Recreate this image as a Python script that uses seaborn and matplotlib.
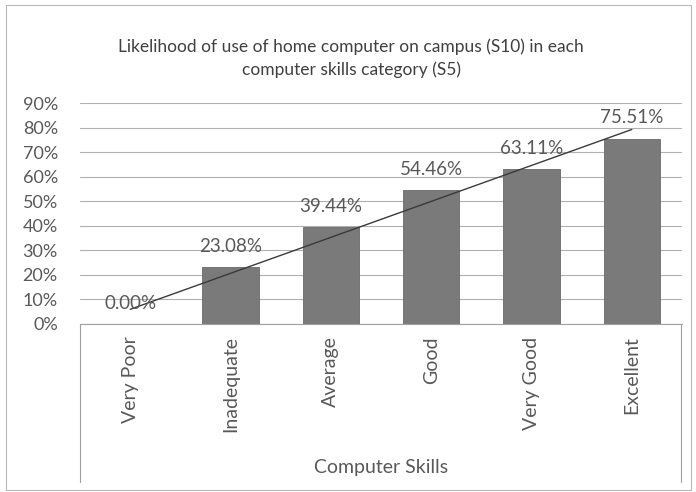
import numpy as np
import pandas as pd
import matplotlib
matplotlib.use("Agg")
import matplotlib.pyplot as plt
import seaborn as sns
from matplotlib.patches import Rectangle
from matplotlib.lines import Line2D

# Data
categories = ["Very Poor", "Inadequate", "Average", "Good", "Very Good", "Excellent"]
likelihood = [0.00, 23.08, 39.44, 54.46, 63.11, 75.51]
y_ticks = [0, 10, 20, 30, 40, 50, 60, 70, 80, 90]

title = "Likelihood of use of home computer on campus (S10) in each\ncomputer skills category (S5)"
x_title = "Computer Skills"

sns.set_theme(style="white")
plt.rcParams["font.family"] = ["Lato", "DejaVu Sans"]

TEXT = "#595959"
df = pd.DataFrame({"skill": categories, "pct": likelihood})

fig = plt.figure(figsize=(6.96, 4.92), dpi=100)
ax = fig.add_axes([80 / 696, 1 - 324 / 492, 602 / 696, 221 / 492])

sns.barplot(data=df, x="skill", y="pct", color="#7a7a7a", saturation=1,
            width=0.56, edgecolor="#6a6a6a", linewidth=0.6, ax=ax, zorder=2)

# Linear trendline through the category positions
xs = np.arange(len(likelihood))
slope, intercept = np.polyfit(xs, likelihood, 1)
ax.plot([xs[0], xs[-1]], [intercept, intercept + slope * xs[-1]],
        color="#3a3a3a", lw=1.0, zorder=4)

# Value labels above the bars
for i, v in enumerate(likelihood):
    ax.annotate(f"{v:.2f}%", (i, v), xytext=(0, 15), textcoords="offset points",
                ha="center", va="center", fontsize=13.5, color=TEXT, zorder=5)

ax.set_ylim(0, 90)
ax.set_xlim(-0.5, len(categories) - 0.5)
ax.set_yticks(y_ticks)
ax.set_yticklabels([f"{t}%" for t in y_ticks])
ax.yaxis.grid(True, color="#b0b0b0", lw=0.8, zorder=0)
ax.set_axisbelow(True)
ax.tick_params(axis="y", length=0, pad=16, labelsize=13, labelcolor=TEXT)
ax.tick_params(axis="x", length=0, pad=9, labelsize=14, labelcolor=TEXT)
for lab in ax.get_xticklabels():
    lab.set_rotation(90)
    lab.set_va("top")
    lab.set_ha("center")
ax.set_xlabel("")
ax.set_ylabel("")
for side in ["top", "right", "left"]:
    ax.spines[side].set_visible(False)
ax.spines["bottom"].set_color("#a0a0a0")
ax.spines["bottom"].set_linewidth(0.8)

# Category area frame below the axis
for x in (79.5 / 696, 680.5 / 696):
    fig.add_artist(Line2D([x, x], [1 - 324 / 492, 1 - 482 / 492],
                          transform=fig.transFigure, color="#a0a0a0", lw=0.8))

fig.text(381 / 696, 1 - 467 / 492, x_title, ha="center", va="center",
         fontsize=14, color=TEXT)
fig.text(351 / 696, 1 - 58 / 492, title, ha="center", va="center",
         fontsize=12.5, color="#404040", linespacing=1.5)

# Outer chart border
fig.add_artist(Rectangle((6 / 696, 1 - 490 / 492), 685 / 696, 485 / 492,
                         transform=fig.transFigure, fill=False,
                         edgecolor="#b8b8b8", lw=0.8))

fig.savefig("out.png", dpi=100, facecolor="white")
